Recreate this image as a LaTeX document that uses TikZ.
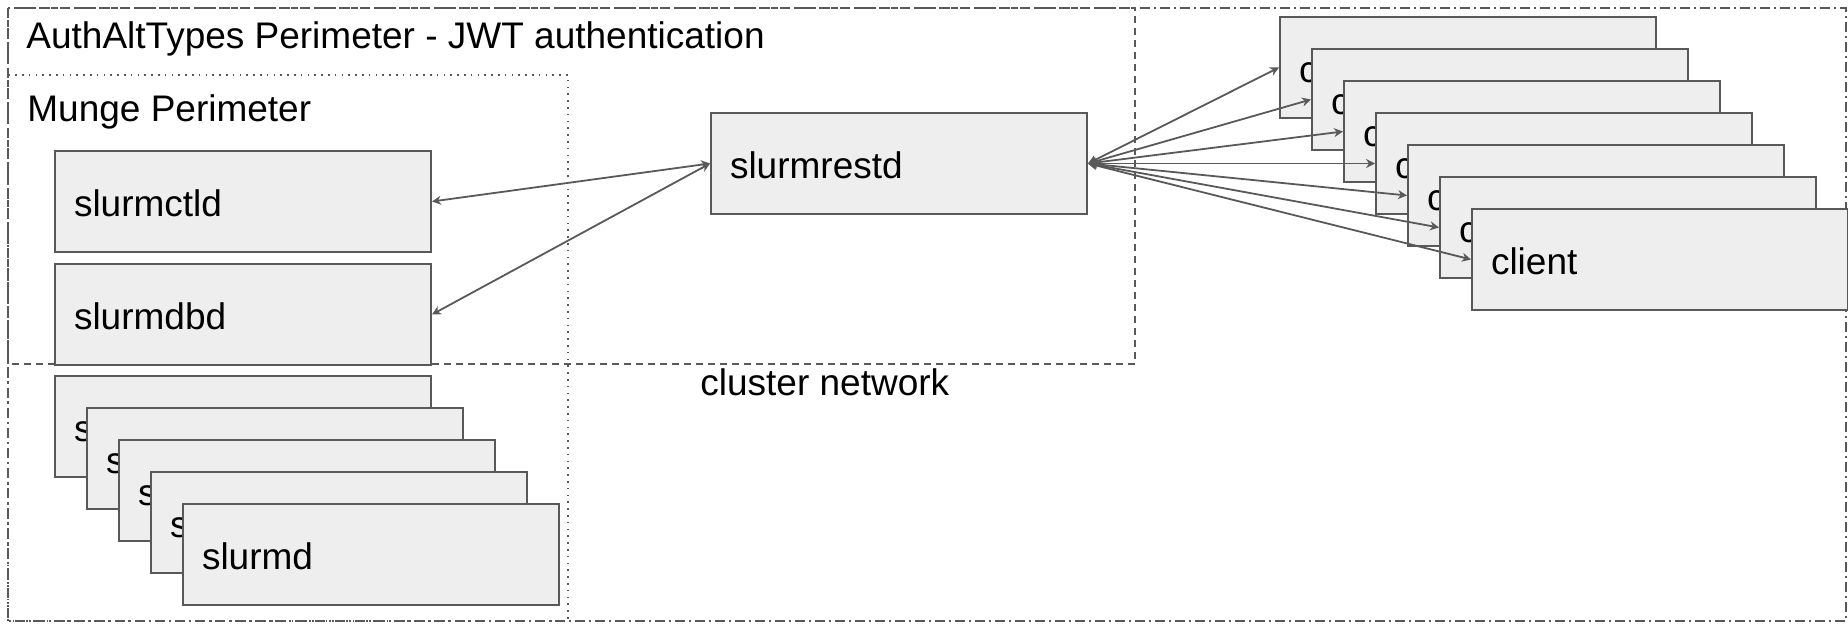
\documentclass[tikz,border=0pt]{standalone}
\usepackage{fontspec}
\setmainfont{Liberation Sans}
\usetikzlibrary{arrows.meta}
\definecolor{boxfill}{HTML}{EEEEEE}
\definecolor{linegray}{HTML}{595959}
\begin{document}
\begin{tikzpicture}[
    x=0.5pt, y=-0.5pt,
    daemon/.style={rectangle, draw=linegray, fill=boxfill, line width=1pt, minimum width=188pt, minimum height=50.5pt, text width=169pt, text height=15pt, text depth=0pt, inner xsep=9.5pt, inner ysep=0pt, align=left, font=\fontsize{18.5pt}{22pt}\selectfont},
    label/.style={anchor=base west, inner sep=0pt, font=\fontsize{18.5pt}{22pt}\selectfont},
    link/.style={draw=linegray, line width=0.9pt, {Stealth[length=4.5pt,width=4.5pt]}-{Stealth[length=4.5pt,width=4.5pt]}},
    zoneall/.style={draw=linegray, line width=0.9pt, dash pattern={on 5pt off 2pt on 1pt off 2pt}},
    zonejwt/.style={draw=linegray, line width=0.9pt, dash pattern={on 3.5pt off 2.5pt}},
    zonemunge/.style={draw=linegray, line width=0.9pt, dash pattern={on 0.8pt off 2.6pt}}
]
\useasboundingbox (0,0) rectangle (1848,624);

% Perimeters
\draw[zoneall] (8,8) rectangle (1846,621);
\draw[zonejwt] (8,8) rectangle (1135,364);
\draw[zonemunge] (8,75) rectangle (568,621);

\node[label] (jwt) at (26,48.5) {AuthAltTypes Perimeter - JWT authentication};
\node[label] (munge) at (27,121.5) {Munge Perimeter};
\node[label] (net) at (700,396) {cluster network};

% Controller side
\node[daemon] (slurmctld) at (243,201.5) {slurmctld};
\node[daemon] (slurmdbd) at (243,314.5) {slurmdbd};
\node[daemon] (slurmrestd) at (899,163.5) {slurmrestd};

% Compute nodes
\node[daemon] (slurmd1) at (243,426.5) {slurmd};
\node[daemon] (slurmd2) at (275,458.5) {slurmd};
\node[daemon] (slurmd3) at (307,490.5) {slurmd};
\node[daemon] (slurmd4) at (339,522.5) {slurmd};
\node[daemon] (slurmd5) at (371,554.5) {slurmd};

% Clients
\node[daemon] (client1) at (1468,67.5) {client};
\node[daemon] (client2) at (1500,99.5) {client};
\node[daemon] (client3) at (1532,131.5) {client};
\node[daemon] (client4) at (1564,163.5) {client};
\node[daemon] (client5) at (1596,195.5) {client};
\node[daemon] (client6) at (1628,227.5) {client};
\node[daemon] (client7) at (1660,259.5) {client};

% Links from slurmrestd
\draw[link] (slurmrestd.west) -- (slurmctld.east);
\draw[link] (slurmrestd.west) -- (slurmdbd.east);

\draw[link] (slurmrestd.east) -- (client1.west);
\draw[link] (slurmrestd.east) -- (client2.west);
\draw[link] (slurmrestd.east) -- (client3.west);
\draw[link] (slurmrestd.east) -- (client4.west);
\draw[link] (slurmrestd.east) -- (client5.west);
\draw[link] (slurmrestd.east) -- (client6.west);
\draw[link] (slurmrestd.east) -- (client7.west);
\end{tikzpicture}
\end{document}
